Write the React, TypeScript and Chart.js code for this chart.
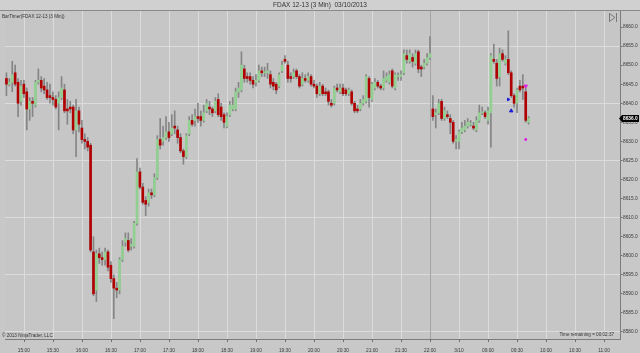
import React, { useEffect, useRef } from "react";
import { Chart, registerables } from "chart.js";

Chart.register(...registerables);

// ---- Data (FDAX 12-13, 3 Min bars) ----
const opens = [
  8646.5, 8645, 8645.5, 8648, 8645.5, 8640.5, 8645, 8643, 8638.5, 8640.5,
  8639.5, 8645.5, 8646, 8644.5, 8643.5, 8642, 8641.5, 8641, 8640, 8641.5,
  8643.5, 8638.5, 8639, 8639, 8633, 8638, 8633.5, 8630.5, 8630, 8629,
  8601, 8591, 8600.5, 8599.5, 8599, 8601, 8597.5, 8594, 8591.5, 8591,
  8599, 8603.5, 8604, 8602.5, 8602.5, 8608.5, 8622, 8618, 8614.5, 8614,
  8616.5, 8616, 8620.5, 8630.5, 8630, 8631, 8632.5, 8632, 8634, 8633,
  8631, 8627.5, 8626, 8632, 8635.5, 8635.5, 8636.5, 8636.5, 8635.5, 8638,
  8639, 8638.5, 8638, 8641, 8639, 8637, 8634, 8637, 8638.5, 8638.5,
  8643, 8643.5, 8649, 8647, 8647, 8646, 8645.5, 8646, 8648.5, 8648,
  8648, 8647.5, 8645.5, 8645, 8644.5, 8648.5, 8651.5, 8650, 8647, 8647,
  8648.5, 8647, 8645, 8646.5, 8646, 8647, 8645, 8644.5, 8642.5, 8644.5,
  8643, 8643, 8640, 8640, 8644, 8643, 8644, 8643.5, 8642.5, 8643,
  8640, 8638.5, 8638.5, 8640, 8640.5, 8646.5, 8641, 8644, 8645.5, 8644.5,
  8644, 8646, 8645.5, 8648.5, 8644, 8647, 8647, 8648, 8652.5, 8651,
  8652, 8650.5, 8653.5, 8649.5, 8649.5, 8650.5, 8652,
  8638.5, 8637, 8637.5, 8640.5, 8636, 8637, 8636, 8635, 8630, 8630,
  8632.5, 8633, 8634, 8634.5, 8634, 8633, 8635.5, 8637.5, 8637.5, 8635.5,
  8637.5, 8651.5, 8650.5, 8647, 8653, 8650.5, 8651.5, 8648, 8642, 8640,
  8644.5, 8644.5, 8643, 8635,
];
const highs = [
  8648, 8646.5, 8651, 8650, 8646.5, 8646, 8646, 8644, 8641.5, 8641.5,
  8646, 8649, 8647, 8646.5, 8645.5, 8645, 8643, 8642, 8643, 8647,
  8645, 8641, 8640.5, 8639.5, 8641, 8639, 8635.5, 8632, 8631, 8629.5,
  8605, 8601.5, 8602, 8601, 8602, 8601.5, 8598.5, 8595, 8593, 8599.5,
  8604, 8606, 8606, 8604.5, 8609, 8625.5, 8623, 8619, 8615.5, 8617.5,
  8617.5, 8621.5, 8631.5, 8636, 8634, 8636.5, 8635, 8637, 8638, 8634,
  8632, 8628, 8632, 8636.5, 8637, 8638.5, 8640, 8638, 8639.5, 8641,
  8640.5, 8639, 8641.5, 8642.5, 8640, 8637.5, 8637.5, 8640.5, 8641.5, 8644,
  8645.5, 8653.5, 8650, 8648, 8648, 8647, 8647.5, 8650, 8649.5, 8649.5,
  8650.5, 8648.5, 8646.5, 8645.5, 8648, 8651, 8652.5, 8651, 8648, 8649,
  8649, 8647.5, 8648, 8647.5, 8648, 8647.5, 8646, 8645, 8645.5, 8645,
  8644, 8643.5, 8641, 8644.5, 8645, 8645, 8645, 8644, 8644, 8643.5,
  8640.5, 8639.5, 8641, 8642, 8647.5, 8647, 8645.5, 8646.5, 8646, 8645,
  8648.5, 8648, 8648.5, 8649, 8648, 8648, 8648.5, 8654, 8654, 8654,
  8653, 8654, 8654, 8650, 8651.5, 8653, 8657.5,
  8642, 8638.5, 8641, 8641, 8639, 8638, 8637, 8635.5, 8631.5, 8633,
  8635, 8635.5, 8636, 8635.5, 8635, 8636.5, 8639.5, 8639, 8638, 8639,
  8653, 8655.5, 8651.5, 8654.5, 8654, 8652.5, 8659, 8648.5, 8642.5, 8644,
  8646, 8647.5, 8644, 8636.5,
];
const lows = [
  8642, 8644.5, 8643, 8644.5, 8636.5, 8639.5, 8641.5, 8633, 8635.5, 8636.5,
  8639, 8645, 8643, 8642.5, 8641, 8640, 8639.5, 8638.5, 8633, 8641,
  8637.5, 8634.5, 8637.5, 8632, 8626, 8632.5, 8629.5, 8628, 8627.5, 8601,
  8589.5, 8588, 8598, 8597.5, 8597.5, 8596, 8593, 8583.5, 8589, 8590,
  8598.5, 8602.5, 8601, 8601.5, 8602, 8608, 8617.5, 8613.5, 8610.5, 8613,
  8615, 8615.5, 8620, 8628, 8629, 8630.5, 8630, 8631.5, 8632, 8629.5,
  8627, 8624, 8625.5, 8631.5, 8634, 8634, 8635, 8634, 8635, 8637.5,
  8637, 8636.5, 8637.5, 8636.5, 8635.5, 8633.5, 8633.5, 8636.5, 8638, 8638,
  8641.5, 8643, 8645.5, 8645.5, 8645, 8644, 8644.5, 8645.5, 8647, 8647,
  8646.5, 8644, 8643.5, 8642.5, 8644, 8648, 8650.5, 8645.5, 8645.5, 8646.5,
  8646.5, 8644, 8644.5, 8645.5, 8645.5, 8644.5, 8644, 8641.5, 8642, 8642,
  8642, 8639.5, 8639, 8639.5, 8643, 8642.5, 8642, 8642, 8642, 8639.5,
  8637.5, 8637.5, 8638, 8639.5, 8640, 8639, 8640.5, 8643.5, 8644, 8643.5,
  8643.5, 8645.5, 8645, 8644, 8643.5, 8646, 8646, 8647.5, 8650.5, 8650.5,
  8649.5, 8650, 8648, 8647, 8649, 8650, 8651.5,
  8635.5, 8633.5, 8637, 8635.5, 8635.5, 8636, 8632, 8629.5, 8628, 8628,
  8632, 8632.5, 8633.5, 8634, 8633, 8632.5, 8635, 8637, 8636, 8634.5,
  8628.5, 8650.5, 8644.5, 8644.5, 8651, 8650, 8647.5, 8641.5, 8639, 8637.5,
  8643, 8641, 8635, 8634.5,
];
const closes = [
  8645, 8645.5, 8647.5, 8645, 8640, 8644.5, 8642.5, 8638.5, 8640.5, 8640,
  8645.5, 8646, 8644, 8643.5, 8641.5, 8641.5, 8641, 8639, 8641.5, 8644,
  8638, 8638, 8638.5, 8633, 8638, 8634.5, 8630.5, 8630, 8628.5, 8601.5,
  8590, 8600.5, 8599.5, 8599, 8601, 8597, 8594, 8591.5, 8591, 8599,
  8602.5, 8604.5, 8601.5, 8603, 8608.5, 8622, 8618, 8614, 8613.5, 8616.5,
  8616, 8620.5, 8630.5, 8629, 8631, 8632.5, 8631, 8633.5, 8633.5, 8631,
  8627.5, 8626, 8631.5, 8635.5, 8634.5, 8636.5, 8636, 8635.5, 8637.5, 8640,
  8638.5, 8637.5, 8640.5, 8637, 8636.5, 8635, 8636.5, 8639.5, 8639.5, 8643,
  8644, 8650, 8646.5, 8646.5, 8646, 8645, 8646, 8648.5, 8648, 8648,
  8648.5, 8645, 8644.5, 8643.5, 8647.5, 8650, 8651, 8646.5, 8646.5, 8648,
  8647, 8644.5, 8646.5, 8646, 8647, 8645, 8644.5, 8642.5, 8644.5, 8642.5,
  8642.5, 8640.5, 8639.5, 8644, 8643.5, 8644, 8642.5, 8642.5, 8643.5, 8640,
  8638, 8638, 8640, 8641, 8647, 8641.5, 8645, 8645.5, 8644.5, 8644,
  8646.5, 8647, 8647.5, 8644.5, 8647.5, 8647, 8647.5, 8653, 8651.5, 8653,
  8651, 8653, 8649, 8649, 8650.5, 8652, 8653,
  8636.5, 8637.5, 8640, 8636, 8638, 8636.5, 8635, 8630, 8630.5, 8632.5,
  8633.5, 8634, 8635, 8634.5, 8633.5, 8635.5, 8637.5, 8637.5, 8636.5, 8638,
  8652.5, 8651, 8646.5, 8653, 8651.5, 8651.5, 8648, 8642, 8640, 8643.5,
  8643.5, 8644, 8635.5, 8636,
];

// Trade markers (bar index, price)
const buyEntryMarkers = [{ bar: 173, price: 8641 }];
const buyMarkers = [{ bar: 174, price: 8638 }];
const sellMarkers = [{ bar: 179, price: 8644.5 }];
const exitMarkers = [{ bar: 179, price: 8630.5 }];

// Sessions (bar close times), and axis text
const sessionRanges: [string, string][] = [
  ["14:42", "22:00"],
  ["08:03", "11:15"],
];
const newDayTime = "08:30";
const newDayLabel = "3/10";
const yTickValues = [
  8580, 8585, 8590, 8595, 8600, 8605, 8610, 8615, 8620, 8625, 8630, 8635,
  8640, 8645, 8650, 8655, 8660,
];
const sessionBreakTime = "22:00";
const titleText = "FDAX 12-13 (3 Min)  03/10/2013";
const indicatorText = "BarTimer(FDAX 12-13 (3 Min))";
const copyrightText = "\u00A9 2013 NinjaTrader, LLC";
const timerText = "Time remaining = 00:02:37";

function buildTimes(start: string, end: string): string[] {
  const toMin = (s: string) => {
    const [h, m] = s.split(":").map(Number);
    return h * 60 + m;
  };
  const out: string[] = [];
  for (let t = toMin(start); t <= toMin(end); t += 3) {
    const h = Math.floor(t / 60);
    const m = t % 60;
    out.push(String(h).padStart(2, "0") + ":" + String(m).padStart(2, "0"));
  }
  return out;
}

const categories = sessionRanges.flatMap(([s, e]) => buildTimes(s, e));

const FONT = '"Liberation Sans", Arial, sans-serif';
const GREEN = "#92d092";
const RED = "#b00000";

function isLabeled(i: number) {
  const lab = categories[i];
  if (!lab) return false;
  if (lab.startsWith("14:")) return false;
  return lab.endsWith(":00") || lab.endsWith(":30");
}

export default function App() {
  const ref = useRef<HTMLCanvasElement | null>(null);

  useEffect(() => {
    document.body.style.margin = "0";
    const canvas = ref.current;
    if (!canvas) return;

    const wicks = categories.map((_, i) =>
      i < opens.length ? [lows[i], highs[i]] : null
    );
    const bodies = categories.map((_, i) =>
      i < opens.length
        ? [Math.min(opens[i], closes[i]), Math.max(opens[i], closes[i])]
        : null
    );
    const bodyColors = categories.map((_, i) =>
      i < opens.length && closes[i] < opens[i] ? RED : GREEN
    );
    const toPts = (arr: { bar: number; price: number }[]) =>
      arr.map((m) => ({ x: categories[m.bar], y: m.price }));

    const framePlugin = {
      id: "frame",
      beforeDraw(chart: any) {
        const { ctx, chartArea } = chart;
        ctx.save();
        ctx.fillStyle = "#c8c8c8";
        ctx.fillRect(0, 0, chart.width, chart.height);
        ctx.fillStyle = "#d0d0d0";
        ctx.fillRect(0, 0, chart.width, 10);
        ctx.fillStyle = "#c6c6c6";
        ctx.fillRect(
          chartArea.left,
          chartArea.top,
          chartArea.right - chartArea.left,
          chartArea.bottom - chartArea.top
        );
        ctx.strokeStyle = "#8a8a8a";
        ctx.lineWidth = 1;
        ctx.beginPath();
        ctx.moveTo(0, 10.5);
        ctx.lineTo(chart.width, 10.5);
        ctx.stroke();
        ctx.restore();
      },
      beforeDatasetsDraw(chart: any) {
        const { ctx, chartArea } = chart;
        const xs = chart.scales.x;
        ctx.save();
        ctx.lineWidth = 1;
        categories.forEach((lab, i) => {
          if (!isLabeled(i)) return;
          const x = Math.round(xs.getPixelForValue(i)) + 0.5;
          ctx.strokeStyle = lab === sessionBreakTime ? "#a4a4a4" : "#dcdcdc";
          ctx.beginPath();
          ctx.moveTo(x, chartArea.top);
          ctx.lineTo(x, chartArea.bottom);
          ctx.stroke();
          ctx.strokeStyle = "#707070";
          ctx.beginPath();
          ctx.moveTo(x, chartArea.bottom);
          ctx.lineTo(x, chartArea.bottom + 3);
          ctx.stroke();
        });
        ctx.restore();
      },
      afterDraw(chart: any) {
        const { ctx } = chart;
        ctx.save();
        ctx.fillStyle = "#333333";
        ctx.textBaseline = "middle";
        ctx.font = `6.5px ${FONT}`;
        ctx.textAlign = "center";
        ctx.fillText(titleText, 320, 5.5);
        ctx.font = `4.6px ${FONT}`;
        ctx.textAlign = "left";
        ctx.fillText(indicatorText, 2, 16.5);
        ctx.fillText(copyrightText, 2, 336);
        ctx.textAlign = "right";
        ctx.fillText(timerText, 614, 334.5);

        // icon
        ctx.strokeStyle = "#666666";
        ctx.lineWidth = 0.8;
        ctx.beginPath();
        ctx.moveTo(609.5, 13.5);
        ctx.lineTo(615, 17.5);
        ctx.lineTo(609.5, 21.5);
        ctx.closePath();
        ctx.moveTo(616.5, 13);
        ctx.lineTo(616.5, 22);
        ctx.stroke();

        // last price box
        const last = closes[closes.length - 1];
        const y = chart.scales.y.getPixelForValue(last);
        ctx.fillStyle = "#000000";
        ctx.beginPath();
        ctx.moveTo(619, y);
        ctx.lineTo(622, y - 3.5);
        ctx.lineTo(639, y - 3.5);
        ctx.lineTo(639, y + 3.5);
        ctx.lineTo(622, y + 3.5);
        ctx.closePath();
        ctx.fill();
        ctx.fillStyle = "#ffffff";
        ctx.font = `bold 4.8px ${FONT}`;
        ctx.textAlign = "left";
        ctx.fillText(last.toFixed(1), 623, y + 0.3);
        ctx.restore();
      },
    };

    const chart = new Chart(canvas, {
      type: "bar",
      data: {
        labels: categories,
        datasets: [
          {
            type: "line",
            label: "buyEntry",
            data: toPts(buyEntryMarkers) as any,
            showLine: false,
            pointStyle: "triangle",
            rotation: 90,
            pointRadius: 1.6,
            backgroundColor: "#1a1ad8",
            borderColor: "#1a1ad8",
            order: 0,
          } as any,
          {
            type: "line",
            label: "buy",
            data: toPts(buyMarkers) as any,
            showLine: false,
            pointStyle: "triangle",
            pointRadius: 2,
            backgroundColor: "#1a1ad8",
            borderColor: "#1a1ad8",
            order: 0,
          } as any,
          {
            type: "line",
            label: "sell",
            data: toPts(sellMarkers) as any,
            showLine: false,
            pointStyle: "triangle",
            rotation: 180,
            pointRadius: 2,
            backgroundColor: "#e020e0",
            borderColor: "#e020e0",
            order: 0,
          } as any,
          {
            type: "line",
            label: "exit",
            data: toPts(exitMarkers) as any,
            showLine: false,
            pointStyle: "rect",
            pointRadius: 1.2,
            backgroundColor: "#e020e0",
            borderColor: "#e020e0",
            order: 0,
          } as any,
          {
            label: "bodies",
            data: bodies as any,
            backgroundColor: bodyColors,
            borderWidth: 0,
            barThickness: 2,
            minBarLength: 1,
            grouped: false,
            order: 1,
          },
          {
            label: "wicks",
            data: wicks as any,
            backgroundColor: "#858585",
            borderWidth: 0,
            barThickness: 1,
            grouped: false,
            order: 2,
          },
        ],
      },
      options: {
        responsive: false,
        animation: false,
        events: [],
        layout: { padding: { left: 3, top: 11, right: 0, bottom: 0 } },
        plugins: {
          legend: { display: false },
          tooltip: { enabled: false },
          title: { display: false },
        },
        scales: {
          x: {
            type: "category",
            offset: true,
            grid: { display: false },
            border: { display: true, color: "#7c7c7c" },
            ticks: {
              autoSkip: false,
              maxRotation: 0,
              minRotation: 0,
              padding: 1,
              color: "#3a3a3a",
              font: { size: 4.8, family: FONT },
              callback: (_v: any, i: number) => {
                if (!isLabeled(i)) return null;
                const lab = categories[i];
                return lab === newDayTime ? newDayLabel : lab;
              },
            },
            afterFit: (s: any) => {
              s.height = 14;
            },
          },
          y: {
            position: "right",
            min: 8578.16,
            max: 8664.2,
            afterBuildTicks: (s: any) => {
              s.ticks = yTickValues.map((v) => ({ value: v }));
            },
            grid: {
              drawTicks: true,
              tickLength: 2.5,
              color: (c: any) =>
                c.tick && c.tick.value % 15 === 0 ? "#dcdcdc" : "rgba(0,0,0,0)",
              tickColor: "#707070",
            },
            border: { display: true, color: "#7c7c7c" },
            ticks: {
              padding: 0.5,
              color: "#3a3a3a",
              font: { size: 4.8, family: FONT },
              callback: (v: any) => Number(v).toFixed(1),
            },
            afterFit: (s: any) => {
              s.width = 20;
            },
          },
        },
      },
      plugins: [framePlugin],
    } as any);

    return () => chart.destroy();
  }, []);

  return (
    <div style={{ width: 640, height: 353 }}>
      <canvas ref={ref} width={640} height={353} style={{ display: "block" }} />
    </div>
  );
}
